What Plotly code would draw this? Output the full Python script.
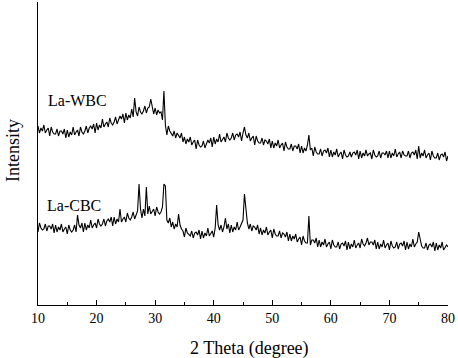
import numpy as np
import plotly.graph_objects as go

# 2-theta scan grid (10 to 80 degrees, 0.25 degree step)
two_theta = np.round(np.arange(10, 80.001, 0.25), 2)

# La-WBC intensity (a.u.)
wbc = [
    179,172,177,174, 180,172,175,177, 169,178,173,171, 171,176,169,174,
    174,171,176,167, 175,168,173,170, 178,170,173,175, 169,178,173,171,
    174,179,172,177, 179,176,181,172, 182,175,180,177, 186,178,181,183,
    178,187,182,180, 183,188,181,186, 189,186,191,182, 192,185,190,187,
    196,188,207,193, 189,198,193,191, 194,199,192,197, 198,206,200,191,
    197,190,195,192, 193,185,214,180, 170,179,174,172, 169,174,167,172,
    170,167,172,163, 168,161,166,163, 168,160,163,165, 156,165,160,158,
    159,164,157,162, 165,162,167,158, 168,161,166,163, 171,163,166,168,
    163,172,167,165, 167,172,165,170, 171,168,173,164, 172,178,170,167,
    172,164,167,169, 160,169,164,162, 162,167,160,165, 164,161,166,157,
    164,157,162,159, 165,157,160,162, 154,163,158,156, 156,161,154,159,
    159,156,161,152, 159,152,157,154, 160,170,155,157, 149,158,153,151,
    151,156,149,154, 155,152,157,148, 155,148,153,150, 156,148,151,153,
    146,155,150,148, 149,153,148,152, 153,150,155,146, 154,147,152,149,
    155,149,151,152, 146,155,150,148, 149,154,147,152, 152,150,154,147,
    154,147,152,149, 156,148,151,153, 147,154,150,149, 149,154,147,152,
    153,150,155,146, 159,147,152,149, 155,147,150,152, 145,154,149,147,
    147,152,145,150, 151,148,153,144, 149,
]

# La-CBC intensity (a.u.)
cbc = [
    73,82,77,75, 76,81,74,79, 79,76,81,72, 80,73,78,75,
    81,73,76,78, 71,80,75,73, 75,80,73,90, 80,77,82,73,
    82,75,80,77, 85,77,80,82, 77,86,81,79, 81,86,79,84,
    86,83,88,79, 88,81,86,83, 96,83,86,88, 83,92,87,85,
    88,93,86,91, 94,121,96,87, 96,89,118,91, 99,91,94,96,
    89,98,93,91, 93,98,121,119, 85,82,87,78, 83,76,81,78,
    91,80,76,74, 68,77,72,70, 69,74,67,72, 73,70,75,66,
    74,67,72,69, 77,69,72,74, 68,77,100,80, 75,80,73,78,
    87,76,81,72, 80,73,78,75, 83,75,78,82, 85,111,92,82,
    76,81,74,79, 78,75,80,71, 77,70,75,72, 78,70,73,75,
    67,76,71,69, 69,74,67,72, 71,68,73,64, 71,64,69,66,
    71,63,66,68, 60,69,64,62, 62,89,60,65, 65,62,67,58,
    65,58,63,60, 66,58,61,63, 56,65,60,58, 58,63,56,61,
    62,59,64,55, 63,56,61,58, 65,57,60,62, 57,66,61,59,
    62,67,60,63, 63,60,65,56, 63,56,61,58, 65,57,60,62,
    55,64,59,57, 58,63,56,61, 62,59,64,55, 63,56,61,58,
    66,58,61,63, 73,64,59,57, 57,62,55,60, 61,58,63,54,
    62,55,60,57, 63,55,58,60, 58,
]

labels = ["La-WBC", "La-CBC"]
label_x = [16.7, 16.1]
label_y = [205, 100]

x_ticks = [10, 20, 30, 40, 50, 60, 70, 80]
minor_ticks = [15, 25, 35, 45, 55, 65, 75]

FONT = "Liberation Serif"

fig = go.Figure()
for name, ys in zip(labels, [wbc, cbc]):
    fig.add_trace(go.Scatter(
        x=two_theta, y=ys, mode="lines", name=name,
        line=dict(color="black", width=1.1), showlegend=False,
    ))

for t, lx, ly in zip(labels, label_x, label_y):
    fig.add_annotation(x=lx, y=ly, text=t, showarrow=False,
                       font=dict(family=FONT, size=16, color="black"))

# axis titles
fig.add_annotation(xref="paper", yref="paper", x=0.515, y=0, yanchor="middle",
                   yshift=-43, text="2 Theta (degree)", showarrow=False,
                   font=dict(family=FONT, size=18, color="black"))
fig.add_annotation(xref="paper", yref="paper", x=0, y=0.508, xanchor="center",
                   xshift=-25, text="Intensity", textangle=-90, showarrow=False,
                   font=dict(family=FONT, size=18, color="black"))

fig.update_layout(
    width=458, height=358,
    margin=dict(l=38, r=10, t=2, b=53),
    paper_bgcolor="white", plot_bgcolor="white",
    font=dict(family=FONT, color="black"),
)
fig.update_xaxes(
    range=[10, 80], tickvals=x_ticks, ticks="inside", ticklen=5,
    tickcolor="black", showline=True, linecolor="black", linewidth=1,
    showgrid=False, zeroline=False, automargin=False,
    tickfont=dict(family=FONT, size=14, color="black"),
    minor=dict(tickvals=minor_ticks, ticks="inside",
               ticklen=3, tickcolor="black"),
)
fig.update_yaxes(
    range=[0, 303], showticklabels=False, ticks="", showline=True,
    linecolor="black", linewidth=1, showgrid=False, zeroline=False,
    automargin=False,
)

fig.write_html("out.html", config={"displayModeBar": False},
               post_script="document.body.style.margin='0';")
